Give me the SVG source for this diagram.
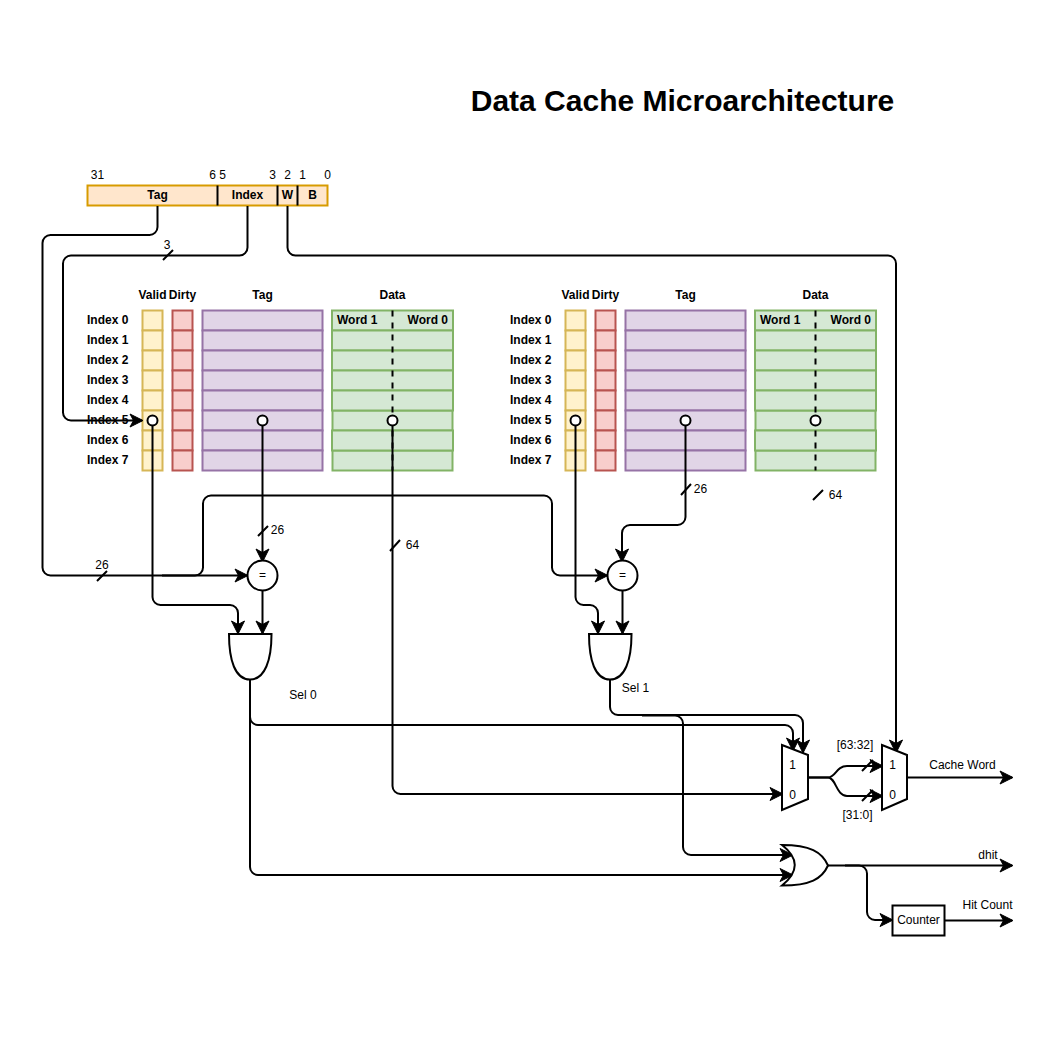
<svg xmlns="http://www.w3.org/2000/svg" width="1061" height="1061" viewBox="0 0 1061 1061">
<style>
text{font-family:"Liberation Sans",Arial,sans-serif;font-size:12px;fill:#000}
.m{text-anchor:middle}
.b{font-weight:bold}
.e{text-anchor:end}
.t{font-size:30px;font-weight:bold}
.y{fill:#fff2cc;stroke:#d6b656;stroke-width:2}
.r{fill:#f8cecc;stroke:#b85450;stroke-width:2}
.p{fill:#e1d5e7;stroke:#9673a6;stroke-width:2}
.g{fill:#d5e8d4;stroke:#82b366;stroke-width:2}
.o{fill:#ffe6cc;stroke:#d79b00;stroke-width:2}
.w{fill:none;stroke:#000;stroke-width:2}
.a{marker-end:url(#arr)}
.d{fill:none;stroke:#000;stroke-width:2;stroke-dasharray:6 6}
.s{fill:#fff;stroke:#000;stroke-width:2}
</style>
<defs>
<marker id="arr" markerUnits="userSpaceOnUse" markerWidth="16" markerHeight="16" refX="12" refY="8" orient="auto" viewBox="0 0 16 16" overflow="visible">
<path d="M0,1.500 L13,8 L0,14.500 L3.500,8 Z" fill="#000" stroke="#000" stroke-width="1"/>
</marker>
<g id="c20"><rect width="20" height="20"/><rect y="20" width="20" height="20"/><rect y="40" width="20" height="20"/><rect y="60" width="20" height="20"/><rect y="80" width="20" height="20"/><rect y="100" width="20" height="20"/><rect y="120" width="20" height="20"/><rect y="140" width="20" height="20"/></g>
<g id="c120"><rect width="120" height="20"/><rect y="20" width="120" height="20"/><rect y="40" width="120" height="20"/><rect y="60" width="120" height="20"/><rect y="80" width="120" height="20"/><rect y="100" width="120" height="20"/><rect y="120" width="120" height="20"/><rect y="140" width="120" height="20"/></g>
<g id="cd"><rect x="0.500" y="100.500" width="120" height="20"/><rect x="0.500" y="140.500" width="120" height="20"/><rect y="0.500" width="121" height="20"/><rect y="20.500" width="121" height="20"/><rect y="40.500" width="121" height="20"/><rect y="60.500" width="121" height="20"/><rect y="80.500" width="121" height="20"/><rect y="120.500" width="121" height="20"/></g>
</defs>
<text x="682.500" y="111" class="t m">Data Cache Microarchitecture</text>

<g id="address">
<rect class="o" x="87.500" y="185.500" width="240" height="20"/>
<path class="w" d="M217.500 185.500V205.500M277.500 185.500V205.500M297.500 185.500V205.500"/>
<text x="157.500" y="199" class="m b">Tag</text>
<text x="247.500" y="199" class="m b">Index</text>
<text x="287.500" y="199" class="m b">W</text>
<text x="312.500" y="199" class="m b">B</text>
<text x="97.500" y="179" class="m">31</text>
<text x="212.500" y="179" class="m">6</text>
<text x="222.500" y="179" class="m">5</text>
<text x="272.500" y="179" class="m">3</text>
<text x="287.500" y="179" class="m">2</text>
<text x="302.500" y="179" class="m">1</text>
<text x="327.500" y="179" class="m">0</text>
</g>

<g id="cache-way-0">
<text x="152.500" y="299" class="m b">Valid</text><text x="182.500" y="299" class="m b">Dirty</text><text x="262.500" y="299" class="m b">Tag</text><text x="392.500" y="299" class="m b">Data</text>
<text x="87" y="324" class="b">Index 0</text><text x="87" y="344" class="b">Index 1</text><text x="87" y="364" class="b">Index 2</text><text x="87" y="384" class="b">Index 3</text><text x="87" y="404" class="b">Index 4</text><text x="87" y="424" class="b">Index 5</text><text x="87" y="444" class="b">Index 6</text><text x="87" y="464" class="b">Index 7</text>
<use href="#c20" class="y" x="142.500" y="310.500"/>
<use href="#c20" class="r" x="172.500" y="310.500"/>
<use href="#c120" class="p" x="202.500" y="310.500"/>
<use href="#cd" class="g" x="332" y="310"/>
<path class="d" d="M392.500 310.500V470.500"/>
<text x="337" y="324" class="b">Word 1</text><text x="448" y="324" class="b e">Word 0</text>
</g>

<g id="cache-way-1">
<text x="575.500" y="299" class="m b">Valid</text><text x="605.500" y="299" class="m b">Dirty</text><text x="685.500" y="299" class="m b">Tag</text><text x="815.500" y="299" class="m b">Data</text>
<text x="510" y="324" class="b">Index 0</text><text x="510" y="344" class="b">Index 1</text><text x="510" y="364" class="b">Index 2</text><text x="510" y="384" class="b">Index 3</text><text x="510" y="404" class="b">Index 4</text><text x="510" y="424" class="b">Index 5</text><text x="510" y="444" class="b">Index 6</text><text x="510" y="464" class="b">Index 7</text>
<use href="#c20" class="y" x="565.500" y="310.500"/>
<use href="#c20" class="r" x="595.500" y="310.500"/>
<use href="#c120" class="p" x="625.500" y="310.500"/>
<use href="#cd" class="g" x="755" y="310"/>
<path class="d" d="M815.500 310.500V470.500"/>
<text x="760" y="324" class="b">Word 1</text><text x="871" y="324" class="b e">Word 0</text>
</g>

<g id="connectors">
<path class="w a" d="M157.500 206V227a8 8 0 0 1-8 8H50.500a8 8 0 0 0-8 8V567.500a8 8 0 0 0 8 8H247"/>
<path class="w a" d="M247.500 206V247.500a8 8 0 0 1-8 8H71a8 8 0 0 0-8 8V412.500a8 8 0 0 0 8 8H142"/>
<path class="w a" d="M287.500 206V247.500a8 8 0 0 0 8 8H888a8 8 0 0 1 8 8V752"/>
<path class="w a" d="M152.500 425V597a8 8 0 0 0 8 8H230a8 8 0 0 1 8 8V633"/>
<path class="w a" d="M262.500 425V561"/>
<path class="w a" d="M392.500 425V786a8 8 0 0 0 8 8H782"/>
<path class="w a" d="M162 575.500H195a8 8 0 0 0 8-8V503.500a8 8 0 0 1 8-8H544a8 8 0 0 1 8 8V567.500a8 8 0 0 0 8 8H607"/>
<path class="w a" d="M575.500 425V597a8 8 0 0 0 8 8H590a8 8 0 0 1 8 8V633"/>
<path class="w a" d="M685.500 425V517a8 8 0 0 1-8 8H630a8 8 0 0 0-8 8V561"/>
<path class="w a" d="M262.500 590V633"/>
<path class="w a" d="M622.500 590V633"/>
<path class="w a" d="M250 680V717a8 8 0 0 0 8 8H785a8 8 0 0 1 8 8V750"/>
<path class="w a" d="M250 680V867a8 8 0 0 0 8 8H792"/>
<path class="w a" d="M610 680V707a8 8 0 0 0 8 8H795a8 8 0 0 1 8 8V752"/>
<path class="w a" d="M642 715.500H675a8 8 0 0 1 8 8V847a8 8 0 0 0 8 8H792"/>
<path class="w a" d="M808 777.500H828C836 777.500 836 766 847 766H882"/>
<path class="w a" d="M808 777.500H828C836 777.500 836 796 847 796H882"/>
<path class="w a" d="M907 777.500H1012"/>
<path class="w a" d="M828 865.500H1012"/>
<path class="w a" d="M845 865.500H859a8 8 0 0 1 8 8V912a8 8 0 0 0 8 8H892"/>
<path class="w a" d="M945 920.500H1012"/>
<path class="w" d="M163 260L173 250M97 581L107 571M258 536L268 526M390 551L400 540M681 495L691 484M813 500L823 490M862 771L873 760M862 801L873 790"/>
</g>

<g id="taps">
<circle class="s" cx="152.500" cy="420.500" r="5"/><circle class="s" cx="262.500" cy="420.500" r="5"/><circle class="s" cx="392.500" cy="420.500" r="5"/>
<circle class="s" cx="575.500" cy="420.500" r="5"/><circle class="s" cx="685.500" cy="420.500" r="5"/><circle class="s" cx="815.500" cy="420.500" r="5"/>
</g>

<g id="cmp-0"><circle class="s" cx="262.500" cy="575.500" r="15"/><text x="262.500" y="579" class="m">=</text></g>
<g id="cmp-1"><circle class="s" cx="622.500" cy="575.500" r="15"/><text x="622.500" y="579" class="m">=</text></g>
<g id="and-0"><path class="s" d="M229 634H271.500C271.500 660 265 679.500 250 679.500C235 679.500 229 660 229 634Z"/></g>
<g id="and-1"><path class="s" d="M589 634H631.500C631.500 660 625 679.500 610 679.500C595 679.500 589 660 589 634Z"/></g>
<g id="mux-0"><path class="s" d="M782 745L808 755V799L782 810Z"/><text x="792.500" y="769" class="m">1</text><text x="792.500" y="799" class="m">0</text></g>
<g id="mux-1"><path class="s" d="M882 745L907 755V799L882 810Z"/><text x="892.500" y="769" class="m">1</text><text x="892.500" y="799" class="m">0</text></g>
<g id="or"><path class="s" d="M782 845C810 845 822 852 828 865.500C822 879 810 885.500 782 885.500C799 872 799 858 782 845Z"/></g>
<g id="counter"><rect class="s" x="892.500" y="905.500" width="52" height="30"/><text x="918.500" y="924" class="m">Counter</text></g>

<g id="labels">
<text x="167" y="249" class="m">3</text>
<text x="102" y="569" class="m">26</text>
<text x="277.500" y="534" class="m">26</text>
<text x="412.500" y="549" class="m">64</text>
<text x="700.500" y="493" class="m">26</text>
<text x="835.500" y="499" class="m">64</text>
<text x="303" y="699" class="m">Sel 0</text>
<text x="635.500" y="692" class="m">Sel 1</text>
<text x="855" y="749" class="m">[63:32]</text>
<text x="857.500" y="819" class="m">[31:0]</text>
<text x="962.500" y="769" class="m">Cache Word</text>
<text x="988" y="859" class="m">dhit</text>
<text x="987.500" y="909" class="m">Hit Count</text>
</g>
</svg>
